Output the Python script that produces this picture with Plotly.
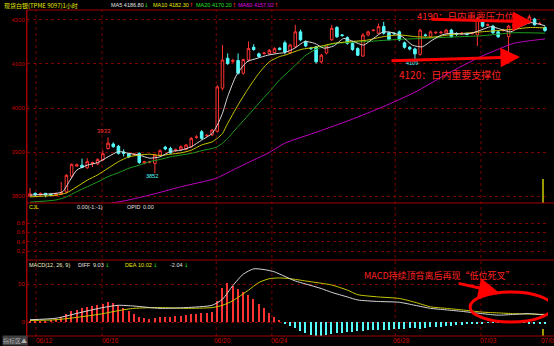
import plotly.graph_objects as go

# ---------------- data ----------------
opens = [3800,3806,3802,3806,3804,3801,3804,3809,3845,3868,3870,3864,3874,3873,3882,3908,3918,3913,3900,3896,
         3894,3897,3875,3877,3874,3893,3911,3908,3904,3906,3906,3912,3933,3946,3937,3939,3947,4045,4113,4106,
         4108,4079,4109,4138,4123,4124,4124,4126,4136,4148,4126,4139,4173,4151,4136,4139,4105,4125,4155,4183,
         4166,4160,4147,4135,4118,4166,4176,4170,4185,4171,4170,4173,4148,4138,4134,4122,4166,4162,4171,4171,
         4170,4177,4168,4169,4168,4169,4166,4196,4188,4186,4173,4176,4162,4188,4190,4191,4194,4202,4192,4183]
highs = [3818,3808,3808,3807,3806,3808,3832,3850,3874,3874,3885,3886,3878,3886,3904,3933,3922,3916,3906,3898,
         3897,3899,3880,3880,3896,3906,3914,3912,3908,3915,3918,3934,3938,3950,3940,3952,4052,4143,4124,4112,
         4124,4112,4151,4145,4126,4127,4134,4138,4138,4153,4146,4189,4178,4154,4139,4141,4123,4143,4189,4186,
         4168,4163,4150,4138,4170,4176,4179,4192,4196,4174,4172,4176,4151,4141,4137,4180,4169,4176,4174,4175,
         4180,4180,4172,4172,4171,4173,4207,4200,4192,4189,4176,4180,4189,4191,4195,4199,4212,4205,4196,4186]
lows = [3798,3800,3800,3797,3799,3799,3802,3806,3840,3866,3863,3862,3866,3870,3880,3905,3910,3894,3890,3886,
        3892,3873,3872,3874,3852,3890,3904,3896,3900,3903,3904,3910,3930,3928,3934,3936,3944,4040,4098,4102,
        4076,4076,4106,4130,4114,4121,4121,4124,4131,4122,4123,4136,4152,4138,4132,4101,4102,4122,4152,4159,
        4162,4144,4130,4118,4116,4163,4174,4168,4167,4153,4166,4152,4135,4131,4109,4119,4162,4160,4168,4168,
        4168,4160,4164,4166,4165,4167,4141,4183,4186,4168,4159,4174,4126,4185,4188,4189,4192,4187,4189,4173]
closes = [3805,3803,3806,3802,3801,3806,3808,3847,3872,3871,3865,3878,3876,3883,3896,3920,3912,3897,3897,3889,
          3895,3876,3878,3878,3893,3903,3907,3898,3905,3912,3916,3931,3934,3931,3938,3950,4048,4109,4101,4108,
          4079,4110,4135,4133,4117,4125,4131,4135,4133,4127,4143,4173,4155,4141,4135,4105,4120,4141,4181,4162,
          4165,4147,4133,4120,4166,4173,4177,4185,4170,4156,4169,4155,4138,4134,4123,4177,4165,4173,4172,4172,
          4177,4162,4167,4170,4167,4170,4203,4186,4189,4171,4162,4177,4186,4189,4192,4196,4207,4189,4192,4176]

# moving averages (index, value)
ma5_x = [0,5,6.3,7.7,9,11,13,15,17,19,21,23,25,27,29,31,33,35,36,37,38,39.7,41.7,43.7,45.7,47.7,49,
         50.9,52.8,54.7,56.5,58.4,60.3,62.2,64.1,66,67.9,69.8,71.6,73.5,75.4,77.3,79.2,81.1,83,84.8,86.7,
         88.6,90.5,92.4,94.3,96.2,99]
ma5_y = [3802,3806,3810,3836,3859,3870,3876,3889,3901,3897,3893,3886,3889,3901,3904,3912,3927,3942,3961,3988,4026,4075,4105,4113,4120,4124,4126,
         4136,4151,4147,4136,4141,4158,4151,4143,4158,4173,4171,4162,4143,4139,4154,4166,4170,4168,4170,4177,
         4185,4179,4173,4185,4194,4187]
ma10_x = [0,5,7,9,11,13,15,17,19,21,23,25,27,29,31,33,35,36,37,38,40,42,44,46,48,49,
          52.1,55.3,58.4,61.6,64.7,67.9,71,74.2,77.3,80.4,83.6,86.7,89.9,93,96.2,99]
ma10_y = [3798,3802,3807,3821,3836,3848,3863,3878,3889,3893,3895,3892,3895,3898,3904,3916,3923,3931,3942,3965,4007,4045,4079,4105,4117,4120,
          4133,4139,4147,4151,4154,4162,4166,4162,4161,4166,4170,4173,4176,4179,4183,4182]
ma20_x = [0,5,7,9,11,13,15,17,19,21,23,25,27,29,31,33,35,36,37,38,40,42,44,46,48,49,
          50.9,52.8,54.7,58.4,64.7,71,75.4,80.4,86.7,93,99]
ma20_y = [3786,3791,3798,3810,3821,3832,3844,3853,3863,3870,3878,3883,3889,3893,3897,3903,3908,3912,3920,3931,3958,3984,4011,4037,4064,4075,
          4096,4118,4132,4146,4151,4156,4158,4161,4164,4171,4170]
ma60_x = [15.3,19,24.3,29,35.7,39,42.3,45.7,49,55.3,61.6,67.9,74.2,80.4,86.7,89.9,93,96.2,99]
ma60_y = [3783,3791,3806,3821,3840,3859,3878,3897,3920,3946,3973,4003,4037,4079,4117,4133,4147,4153,4157]

# MACD
diff_x = [0,5,10,14,17,20,25,30,35,37,39,41,43,45,47,49,51,53,56,58,61,63,67,71,74,77,80,83,87,90,93,96,99]
diff_y = [3,5,13,19,22,21,18,19,22,30,48,63,70,69,66,60,54,50,44,39,33,29,27,26,22,18,16,14,11,9,10,11,9]
dea_x = [0,5,10,14,17,20,25,30,35,37,39,42,44,46,48,50,53,56,58,61,63,67,71,74,77,80,83,87,90,93,96,99]
dea_y = [2,3,7,11,15,18,19,18,19,22,28,42,52,57,58,57,54,51,48.7,42,36,33,31,26,20,18,16,13,12,11,10.5,10]
macd_hist = [1,1,2,2,3,4,6,10,14,16,18,20,21,22,24,26,25,22,18,14,
             10,7,5,4,5,6,7,7,8,8,9,10,11,12,12,13,28,45,51,48,
             44,40,36,30,24,18,12,7,3,-2,-5,-8,-12,-15,-17,-18,-18,-17,-16,-15,
             -14,-13,-13,-12,-12,-11,-11,-10,-10,-10,-9,-9,-9,-8,-8,-9,-8,-7,-6,-6,
             -5,-5,-4,-4,-3,-3,-2,-2,-1,-1,-1,0.5,-1,-1,-1,-1,-2,-2,-2,-2]

date_labels = ["06/12", "06/16", "06/20", "06/24", "06/28", "07/03", "07/07"]
date_pos = [0.7, 13.5, 35.0, 45.9, 69.4, 86.2, 97.9]
grid_pos = [1.15, 13.85, 35.8, 46.5, 70.2, 86.7]

ma_last = {"MA5": 4186.80, "MA10": 4182.30, "MA20": 4170.20, "MA60": 4157.02}
macd_last = {"DIFF": 9.03, "DEA": 10.02, "MACD": -2.04}

# ---------------- layout helpers ----------------
W, H = 554, 346
L, R, T, B = 27, 6, 10, 10
PW, PH = W - L - R, H - T - B
def px(X):
    return (X - L) / PW
def py(Y):
    return (H - B - Y) / PH

RED = "#FF2020"
AXRED = "#A00000"
GRID = "#7A0000"
CYAN = "#54FCFC"
C_MA5 = "#D8D8D8"
C_MA10 = "#C8C800"
C_MA20 = "#1E9E1E"
C_MA60 = "#C000C0"
FONT = "Noto Sans CJK SC"
SANS = "Liberation Sans"

n = len(closes)
xs = list(range(n))

fig = go.Figure()

fig.add_trace(go.Candlestick(
    x=xs, open=opens, high=highs, low=lows, close=closes,
    increasing=dict(line=dict(color="#FF3232", width=1), fillcolor="#000000"),
    decreasing=dict(line=dict(color=CYAN, width=1), fillcolor=CYAN),
    whiskerwidth=0, xaxis="x", yaxis="y", showlegend=False, hoverinfo="skip"))

for mx, my, c in [(ma60_x, ma60_y, C_MA60), (ma20_x, ma20_y, C_MA20),
                  (ma10_x, ma10_y, C_MA10), (ma5_x, ma5_y, C_MA5)]:
    fig.add_trace(go.Scatter(x=mx, y=my, mode="lines", line=dict(color=c, width=1, shape="spline", smoothing=0.6),
                             xaxis="x", yaxis="y", showlegend=False, hoverinfo="skip"))

# olive marker bars at the last candle
fig.add_trace(go.Bar(x=[n - 1.3], y=[55], base=[3784], width=0.4, marker=dict(color="#9A9A00", line=dict(width=0)),
                     xaxis="x", yaxis="y", showlegend=False, hoverinfo="skip"))

# MACD histogram
hist_col = ["#FF3232" if v >= 0 else CYAN for v in macd_hist]
fig.add_trace(go.Bar(x=xs, y=macd_hist, width=0.28, marker=dict(color=hist_col, line=dict(width=0)),
                     xaxis="x", yaxis="y3", showlegend=False, hoverinfo="skip"))
fig.add_trace(go.Bar(x=[n - 1.3], y=[9], base=[-18.4], width=0.4, marker=dict(color="#9A9A00", line=dict(width=0)),
                     xaxis="x", yaxis="y3", showlegend=False, hoverinfo="skip"))
fig.add_trace(go.Scatter(x=dea_x, y=dea_y, mode="lines", line=dict(color=C_MA10, width=1, shape="spline", smoothing=0.6),
                         xaxis="x", yaxis="y3", showlegend=False, hoverinfo="skip"))
fig.add_trace(go.Scatter(x=diff_x, y=diff_y, mode="lines", line=dict(color=C_MA5, width=1, shape="spline", smoothing=0.6),
                         xaxis="x", yaxis="y3", showlegend=False, hoverinfo="skip"))

tickfont = dict(family=SANS, size=6, color="#C00000")
yax_common = dict(showline=True, linecolor=AXRED, linewidth=1, showgrid=True, gridcolor=GRID, griddash="dot",
                  gridwidth=1, zeroline=False, tickfont=tickfont, ticks="", anchor="x", fixedrange=True)

fig.update_layout(
    width=W, height=H, margin=dict(l=L, r=R, t=T, b=B),
    paper_bgcolor="#000000", plot_bgcolor="#000000",
    bargap=0, barmode="overlay",
    xaxis=dict(range=[-0.58, n - 1 + 0.58], showticklabels=False, showgrid=False, zeroline=False,
               rangeslider=dict(visible=False), anchor="y3", showline=False, fixedrange=True),
    yaxis=dict(domain=[py(203), 1], range=[3784.1, 4222.7], tickvals=[3800, 3900, 4000, 4100, 4200], **yax_common),
    yaxis2=dict(domain=[py(260), py(203)], range=[0.007, 1.229], tickvals=[0.2, 0.4, 0.6, 0.8],
                ticktext=["0.2", "0.4", "0.6", "0.8"], **yax_common),
    yaxis3=dict(domain=[0, py(260)], range=[-18.4, 81.6], tickvals=[0, 50], **yax_common),
    font=dict(family=FONT),
)

# empty trace to show CJL axis
fig.add_trace(go.Scatter(x=[None], y=[None], xaxis="x", yaxis="y2", showlegend=False))

shapes = []
for gx in grid_pos:
    shapes.append(dict(type="line", xref="x", yref="paper", x0=gx, x1=gx, y0=0, y1=1,
                       line=dict(color=GRID, width=1, dash="dot"), layer="below"))
for yy in [10, 203, 260, 336]:
    shapes.append(dict(type="line", xref="paper", yref="paper", x0=0, x1=1.02, y0=py(yy), y1=py(yy),
                       line=dict(color=AXRED, width=1)))
shapes.append(dict(type="line", xref="paper", yref="paper", x0=0, x1=0, y0=py(346), y1=1,
                   line=dict(color=AXRED, width=1)))
# MACD ellipse
shapes.append(dict(type="circle", xref="x", yref="y3", x0=84.6, x1=100.4, y0=0.0, y1=39.5,
                   line=dict(color="#FF0000", width=3)))
fig.update_layout(shapes=shapes)

ann = []
def txt(X, Y, s, color, size=5.5, xanchor="left", family=SANS, bg=None):
    d = dict(x=px(X), y=py(Y), xref="paper", yref="paper", text=s, showarrow=False, xanchor=xanchor,
             yanchor="middle", font=dict(family=family, size=size, color=color), borderpad=0)
    if bg:
        d["bgcolor"] = bg
    ann.append(d)

# header
txt(3, 5, "现货白银(TPME 9097)1小时", "#E8E800", 6, family=FONT)
txt(110, 5, "MA5 %.2f" % ma_last["MA5"], "#E0E0E0")
txt(143, 5, "↓", "#00E000", family="DejaVu Sans")
txt(152, 5, "MA10 %.2f" % ma_last["MA10"], "#E8E800")
txt(188, 5, "↑", "#FF2020", family="DejaVu Sans")
txt(195, 5, "MA20 %.2f" % ma_last["MA20"], "#20E020")
txt(231, 5, "↑", "#FF2020", family="DejaVu Sans")
txt(237, 5, "MA60 %.2f" % ma_last["MA60"], "#E000E0")
txt(273, 5, "↑", "#FF2020", family="DejaVu Sans")

# CJL header
txt(28, 207.5, "CJL", "#E8E800")
txt(76, 207.5, "0.00(-1:-1)", "#E0E0E0")
txt(126, 207.5, "OPID", "#E0E0E0")
txt(142, 207.5, "0.00", "#E0E0E0")

# MACD header
txt(28, 264.5, "MACD(12, 26, 9)", "#F0F0C0")
txt(77, 264.5, "DIFF", "#E0E0E0")
txt(92, 264.5, "%.2f" % macd_last["DIFF"], "#E0E0E0")
txt(104, 264.5, "↓", "#00E000", family="DejaVu Sans")
txt(124, 264.5, "DEA", "#E8E800")
txt(137, 264.5, "%.2f" % macd_last["DEA"], "#E8E800")
txt(152, 264.5, "↓", "#00E000", family="DejaVu Sans")
txt(169, 264.5, "%.2f" % macd_last["MACD"], "#E0E0E0")
txt(183, 264.5, "↓", "#00E000", family="DejaVu Sans")

# bottom-left
txt(2, 341, "指标区▲", "#B0B0B0", 6, family=FONT, bg="#404040")

# date labels
for lab, p in zip(date_labels, date_pos):
    ann.append(dict(x=p, y=py(341), xref="x", yref="paper", text=lab, showarrow=False, xanchor="left",
                    yanchor="middle", font=dict(family=SANS, size=6.5, color="#D00000")))

# high/low labels
ih = highs.index(3933)
ann.append(dict(x=ih - 0.8, y=highs[ih], xref="x", yref="y", text=str(highs[ih]), showarrow=False,
                yanchor="bottom", yshift=1, font=dict(family=SANS, size=6, color="#FF3232")))
for lv in [3852, 4109, 4126]:
    il = lows.index(lv)
    ann.append(dict(x=il - 0.5, y=lows[il], xref="x", yref="y", text=str(lows[il]), showarrow=False,
                    yanchor="top", yshift=1, borderpad=0, font=dict(family=SANS, size=5.5, color=CYAN)))

# key level texts
ann.append(dict(x=px(415), y=py(16), xref="paper", yref="paper", text="4190：日内重要压力位", showarrow=False,
                xanchor="left", yanchor="middle", font=dict(family=FONT, size=9.5, color=RED)))
ann.append(dict(x=px(398), y=py(75), xref="paper", yref="paper", text="4120：日内重要支撑位", showarrow=False,
                xanchor="left", yanchor="middle", borderpad=0, font=dict(family=FONT, size=10, color=RED)))
ann.append(dict(x=px(362), y=py(275.5), xref="paper", yref="paper", text="MACD持续顶背离后再现“低位死叉”",
                showarrow=False, xanchor="left", yanchor="middle", font=dict(family=FONT, size=9, color=RED)))

# arrows
for (hx, hy, tx, ty, yr) in [(96.5, 4196, 76.9, 4202, "y"), (94.2, 4116, 69.2, 4107, "y"), (90.0, 39.5, 82.1, 51.3, "y3")]:
    ann.append(dict(x=hx, y=hy, ax=tx, ay=ty, xref="x", yref=yr, axref="x", ayref=yr, text="",
                    showarrow=True, arrowhead=2, arrowsize=1.3, arrowwidth=3, arrowcolor="#FF0000"))

fig.update_layout(annotations=ann)
fig.write_html("out.html")
